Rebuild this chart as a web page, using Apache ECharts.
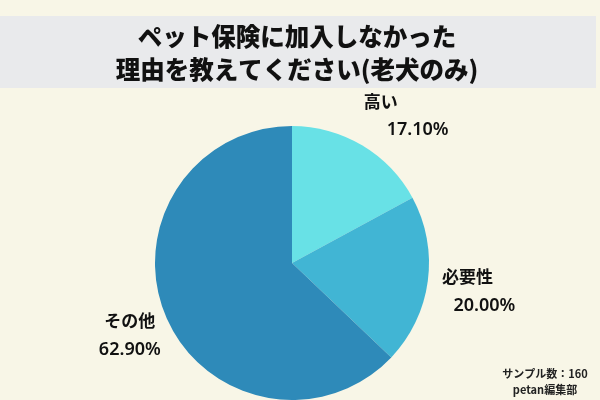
<!DOCTYPE html>
<html><head><meta charset="utf-8">
<script src="https://cdn.jsdelivr.net/npm/echarts@6/dist/echarts.min.js"></script>
<style>html,body{margin:0;padding:0;background:#f8f6e7}#c{width:600px;height:400px}</style>
</head><body><div id="c"></div>
<script>
const titleLines = ['ペット保険に加入しなかった', '理由を教えてください(老犬のみ)'];
const categories = ['高い', '必要性', 'その他'];
const values = [17.10, 20.00, 62.90];
const colors = ['#68e1e6', '#41b5d4', '#2e8ab9'];
const noteLines = ['サンプル数：160', 'petan編集部'];

// per-item label text padding [nameRight, pctLeft] and block offset
const labelPads = [[8, 66], [10, 24], [0, 0]];
const labelOffsets = [[-1, 10], [-1, 4], [6, 0]];

const chart = echarts.init(document.getElementById('c'), null, {renderer: 'canvas'});
const mainData = categories.map((n, i) => ({name: n, value: values[i], itemStyle: {color: colors[i]}}));
const labelData = categories.map((n, i) => ({
  name: n, value: values[i],
  label: {
    offset: labelOffsets[i],
    rich: {
      n: {fontSize: 17, fontWeight: 'bold', color: '#111', lineHeight: 29, padding: [0, labelPads[i][0], 0, 0], fontFamily: 'Noto Sans CJK JP'},
      p: {fontSize: 18, fontWeight: 600, color: '#111', lineHeight: 29, padding: [0, 0, 0, labelPads[i][1]], fontFamily: 'Noto Sans'}
    }
  }
}));

chart.setOption({
  backgroundColor: '#f8f6e7',
  graphic: [{type: 'rect', shape: {x: 0, y: 16, width: 596, height: 72}, style: {fill: '#e9eaec'}, z: 0}],
  title: [{
    text: titleLines.join('\n'),
    left: 292, top: 15, textAlign: 'center',
    textStyle: {fontSize: 24.5, fontWeight: 900, color: '#111', lineHeight: 33, fontFamily: 'Noto Sans CJK JP'}
  }, {
    text: noteLines.join('\n'),
    left: 540, top: 361, textAlign: 'center',
    textStyle: {fontSize: 11, fontWeight: 'bold', color: '#222', lineHeight: 16, fontFamily: 'Noto Sans CJK JP'}
  }],
  series: [{
    type: 'pie', center: [292, 263], radius: [0, 137], startAngle: 90, clockwise: true,
    silent: true, label: {show: false}, labelLine: {show: false},
    data: mainData, z: 2
  }, {
    type: 'pie', center: [292, 263], radius: [179, 181], startAngle: 90, clockwise: true,
    silent: true,
    itemStyle: {color: 'rgba(0,0,0,0)'},
    label: {
      show: true, position: 'inside', rotate: 0,
      formatter: p => '{n|' + p.name + '}\n{p|' + p.value.toFixed(2) + '%}'
    },
    labelLine: {show: false},
    data: labelData, z: 3
  }]
});
</script></body></html>
